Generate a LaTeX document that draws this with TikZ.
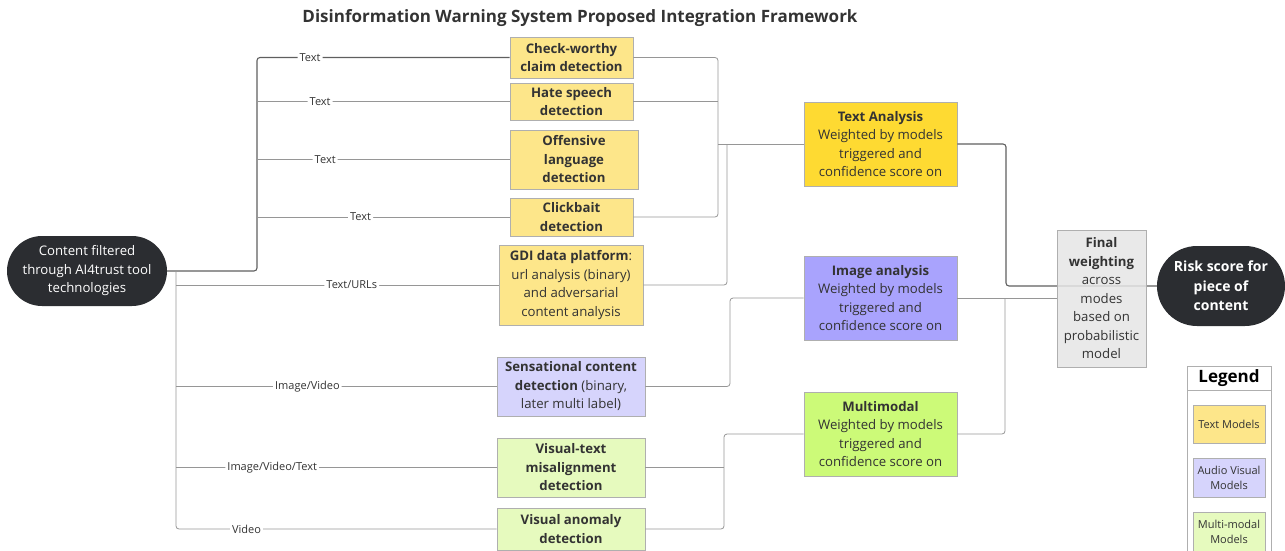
\documentclass[tikz,border=0pt]{standalone}
\usepackage{fontspec}
\setmainfont{Open Sans}
\definecolor{txt}{RGB}{51,51,51}
\definecolor{bord}{RGB}{175,175,175}
\definecolor{ylw}{RGB}{253,230,138}
\definecolor{gold}{RGB}{254,218,50}
\definecolor{lav}{RGB}{214,212,252}
\definecolor{purp}{RGB}{169,163,253}
\definecolor{lgrn}{RGB}{230,250,190}
\definecolor{grn}{RGB}{204,250,120}
\definecolor{fgray}{RGB}{229,229,229}
\definecolor{dark}{RGB}{43,45,49}
\definecolor{lnc}{RGB}{150,150,150}
\definecolor{dlnc}{RGB}{95,95,95}
\tikzset{
  fbox/.style={draw=bord, line width=0.8pt, align=center, inner sep=1pt, text=txt,
    font=\fontsize{13.2}{18.5}\selectfont},
  pill/.style={fill=dark, text=white, align=center, inner sep=1pt,
    font=\fontsize{13.2}{18.5}\selectfont},
  ln/.style={draw=lnc, line width=0.8pt, rounded corners=3pt},
  dkln/.style={draw=dlnc, line width=1.1pt, rounded corners=3pt},
  lab/.style={fill=white, text=txt, inner sep=2pt, font=\fontsize{11}{13}\selectfont},
  lgbox/.style={draw=bord, line width=0.8pt, align=center, inner sep=1pt, text=txt,
    minimum width=72pt, font=\fontsize{11}{15}\selectfont},
}
\begin{document}
\begin{tikzpicture}[x=1pt,y=-1pt]
\useasboundingbox (0,0) rectangle (1285,551);
% title
\node[font=\bfseries\fontsize{17}{20}\selectfont, text=txt] (title) at (580,18)
  {Disinformation Warning System Proposed Integration Framework};
% source
\node[pill, minimum width=160pt, minimum height=70pt, rounded corners=35pt] (src) at (87,271)
  {Content filtered\\through AI4trust tool\\technologies};
% text model boxes
\node[fbox, fill=ylw, minimum width=123pt, minimum height=41pt] (cw) at (571.5,57.5)
  {\bfseries Check-worthy\\\bfseries claim detection};
\node[fbox, fill=ylw, minimum width=123pt, minimum height=37pt] (hs) at (571.5,101.5)
  {\bfseries Hate speech\\\bfseries detection};
\node[fbox, fill=ylw, minimum width=128pt, minimum height=59pt] (ol) at (574,159.5)
  {\bfseries Offensive\\\bfseries language\\\bfseries detection};
\node[fbox, fill=ylw, minimum width=123pt, minimum height=38pt] (cb) at (571.5,217)
  {\bfseries Clickbait\\\bfseries detection};
\node[fbox, fill=ylw, minimum width=144pt, minimum height=80pt] (gdi) at (571,285)
  {\textbf{GDI data platform}:\\url analysis (binary)\\and adversarial\\content analysis};
\node[fbox, fill=lav, minimum width=148pt, minimum height=59pt] (sc) at (571,386.5)
  {\textbf{Sensational content}\\\textbf{detection} (binary,\\later multi label)};
\node[fbox, fill=lgrn, minimum width=148pt, minimum height=59pt] (vt) at (571,467.5)
  {\bfseries Visual-text\\\bfseries misalignment\\\bfseries detection};
\node[fbox, fill=lgrn, minimum width=148pt, minimum height=42pt] (va) at (571,529)
  {\bfseries Visual anomaly\\\bfseries detection};
% analysis boxes
\node[fbox, fill=gold, minimum width=153pt, minimum height=84pt] (ta) at (880.5,144)
  {\textbf{Text Analysis}\\Weighted by models\\triggered and\\confidence score on};
\node[fbox, fill=purp, minimum width=153pt, minimum height=84pt] (ia) at (880.5,298)
  {\textbf{Image analysis}\\Weighted by models\\triggered and\\confidence score on};
\node[fbox, fill=grn, minimum width=153pt, minimum height=84pt] (mm) at (880.5,434)
  {\textbf{Multimodal}\\Weighted by models\\triggered and\\confidence score on};
\node[pill, font=\bfseries\fontsize{14}{19.5}\selectfont, minimum width=128pt, minimum height=80pt, rounded corners=40pt] (rs) at (1221,286)
  {Risk score for\\piece of\\content};
% junction coordinates
\coordinate (ja) at (257,57.5);
\coordinate (jb) at (257,101.5);
\coordinate (jc) at (257,159.5);
\coordinate (jd) at (257,217);
\coordinate (je) at (257,271);
\coordinate (k0) at (176,271);
\coordinate (kb) at (176,285);
\coordinate (kc) at (176,386.5);
\coordinate (kd) at (176,467.5);
\coordinate (ke) at (176,529);
\coordinate (ma) at (718,57.5);
\coordinate (mb) at (718,101.5);
\coordinate (mc) at (718,144);
\coordinate (md) at (718,217);
\coordinate (me) at (727,285);
\coordinate (mf) at (727,144);
\coordinate (sa) at (730,386.5);
\coordinate (sb) at (730,298);
\coordinate (va1) at (724,467.5);
\coordinate (va2) at (724,529);
\coordinate (va3) at (724,434);
\coordinate (ra) at (1006,144);
\coordinate (rb) at (1006,286);
\coordinate (rc) at (1005,434);
\coordinate (rd) at (1005,298);
% left connectors
\draw[dkln] (src.east) -- (je) -- (ja) -- node[lab, pos=0.21] {Text} (cw.west);
\draw[ln] (jb) -- node[lab, pos=0.25] {Text} (hs.west);
\draw[ln] (jc) -- node[lab, pos=0.27] {Text} (ol.west);
\draw[ln] (jd) -- node[lab, pos=0.41] {Text} (cb.west);
\draw[ln] (k0) -- (ke) -- node[lab, pos=0.22] {Video} (va.west);
\draw[ln] (kb) -- node[lab, pos=0.545] {Text/URLs} (gdi.west);
\draw[ln] (kc) -- node[lab, pos=0.41] {Image/Video} (sc.west);
\draw[ln] (kd) -- node[lab, pos=0.30] {Image/Video/Text} (vt.west);
% middle connectors
\draw[ln] (cw.east) -- (ma) -- (md) -- (cb.east);
\draw[ln] (hs.east) -- (mb);
\draw[ln] (mc) -- (ta.west);
\draw[ln] (gdi.east) -- (me) -- (mf);
\draw[ln] (sc.east) -- (sa) -- (sb) -- (ia.west);
\draw[ln] (vt.east) -- (va1);
\draw[ln] (va.east) -- (va2) -- (va3) -- (mm.west);
% right connectors
\draw[dkln] (ta.east) -- (ra) -- (rb) -- (rs.west);
\draw[ln] (ia.east) -- (rd -| 1057,0);
\draw[ln] (mm.east) -- (rc) -- (rd);
% final weighting
\node[fbox, fill=fgray, fill opacity=0.85, text opacity=1, minimum width=89pt, minimum height=137pt] (fw) at (1101.5,298.5)
  {\textbf{Final}\\\textbf{weighting}\\across\\modes\\based on\\probabilistic\\model};
% legend
\draw[draw=bord, line width=0.8pt, fill=white] (1187,366) rectangle (1271,560);
\draw[draw=bord, line width=0.8pt] (1187,390) -- (1271,390);
\node[font=\bfseries\fontsize{17}{20}\selectfont, text=black] (lgt) at (1229,378) {Legend};
\node[lgbox, fill=ylw, minimum height=38pt] (lt) at (1229,424.5) {Text Models};
\node[lgbox, fill=lav, minimum height=39pt] (la) at (1229,477.5) {Audio Visual\\Models};
\node[lgbox, fill=lgrn, minimum height=40pt] (lm) at (1229,532) {Multi-modal\\Models};
\end{tikzpicture}
\end{document}
